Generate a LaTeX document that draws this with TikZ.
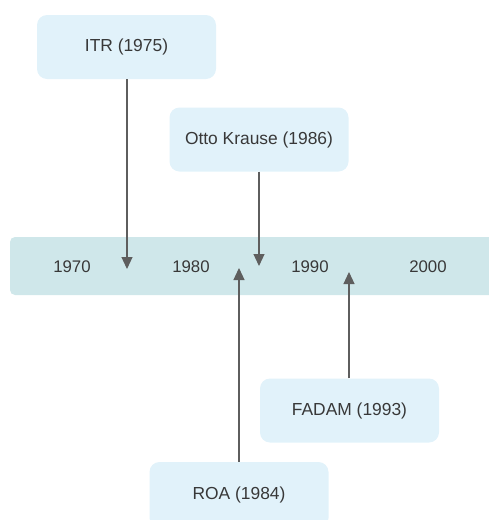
\documentclass[tikz,border=0pt]{standalone}
\usepackage{fontspec}
\setmainfont{Liberation Sans}
\usetikzlibrary{arrows.meta}
\definecolor{bandc}{HTML}{CFE7EA}
\definecolor{boxc}{HTML}{E1F2FA}
\definecolor{arrc}{HTML}{5E5E5E}
\definecolor{txtc}{HTML}{383838}
\tikzset{
  evbox/.style={fill=boxc, draw=none, rounded corners=10pt, minimum width=179pt, minimum height=64pt, inner sep=0pt, text=txtc, font=\fontsize{17.4}{20}\selectfont},
  yearlbl/.style={text=txtc, font=\fontsize{16.8}{20}\selectfont, inner sep=0pt},
  conn/.style={draw=arrc, line width=1.2pt, -{Triangle[length=12pt,width=11pt]}}
}
\begin{document}
\begin{tikzpicture}[x=1pt,y=-1pt]
\useasboundingbox (0,0) rectangle (489,520);
\clip (0,0) rectangle (489,520);
\fill[bandc, rounded corners=5pt] (10,237) rectangle (500,295);
\node[yearlbl] (y1970) at (72,267) {1970};
\node[yearlbl] (y1980) at (191,267) {1980};
\node[yearlbl] (y1990) at (310,267) {1990};
\node[yearlbl] (y2000) at (428,267) {2000};
\node[evbox] (itr) at (126.5,47) {ITR (1975)};
\node[evbox] (otto) at (259,139.5) {Otto Krause (1986)};
\node[evbox] (fadam) at (349.5,410.5) {FADAM (1993)};
\node[evbox, minimum height=66pt] (roa) at (239,495) {ROA (1984)};
\coordinate (titr) at (127,269);
\coordinate (totto) at (259,266);
\coordinate (troa) at (239,268);
\coordinate (tfadam) at (349,272);
\draw[conn] (itr.south -| titr) -- (titr);
\draw[conn] (otto.south -| totto) -- (totto);
\draw[conn] (roa.north -| troa) -- (troa);
\draw[conn] (fadam.north -| tfadam) -- (tfadam);
\end{tikzpicture}
\end{document}
